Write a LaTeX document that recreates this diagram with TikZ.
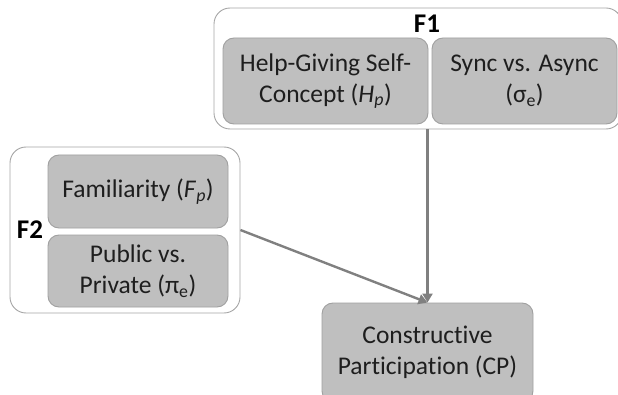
\documentclass[tikz,border=0pt]{standalone}
\usepackage{fontspec}
\setmainfont{Carlito}[Ligatures=NoCommon]
\usetikzlibrary{arrows.meta}
\definecolor{innerfill}{HTML}{BFBFBF}
\definecolor{innerline}{HTML}{A0A0A0}
\definecolor{outerline}{HTML}{A6A6A6}
\definecolor{txt}{HTML}{1E1E1E}
\definecolor{arrowc}{HTML}{808080}
\tikzset{
  groupbox/.style={draw=outerline, line width=0.9pt, rounded corners=16pt, fill=white, inner sep=0pt},
  factorbox/.style={draw=innerline, line width=0.9pt, fill=innerfill, rounded corners=11pt, inner sep=0pt, align=center, text=txt, font=\fontsize{25.5}{31}\selectfont},
  grouplabel/.style={text=black, font=\fontsize{27}{30}\selectfont\bfseries, inner sep=0pt},
  conn/.style={draw=arrowc, line width=2.4pt, -{Triangle[length=9pt,width=10pt]}}
}
\begin{document}
\begin{tikzpicture}[x=1pt,y=1pt]
\useasboundingbox (0,0) rectangle (618,394);
\clip (0,0) rectangle (618,394);
\node[groupbox, minimum width=408pt, minimum height=121pt] (f1) at (418,325.5) {};
\node[factorbox, minimum width=205pt, minimum height=86pt] (h) at (325.5,313) {Help-Giving Self-\\Concept (\textit{H}\textsubscript{\textit{p}})};
\node[factorbox, minimum width=185pt, minimum height=86pt] (s) at (524.5,313) {Sync vs. Async\\(σ\textsubscript{e})};
\node[grouplabel] (f1l) at (427,370) {F1};
\node[groupbox, minimum width=230pt, minimum height=166pt] (f2) at (125,164) {};
\node[factorbox, minimum width=180pt, minimum height=73pt] (fam) at (138,202.5) {Familiarity (\textit{F}\textsubscript{\textit{p}})};
\node[factorbox, minimum width=180pt, minimum height=72pt] (pub) at (138,123) {Public vs.\\Private (π\textsubscript{e})};
\node[grouplabel] (f2l) at (30,164) {F2};
\node[factorbox, minimum width=211pt, minimum height=99pt] (cp) at (427.5,41.5) {Constructive\\Participation (CP)};
\draw[conn] (f1.south -| cp.north) -- (cp.north);
\draw[conn] (f2.east) -- (cp.north);
\end{tikzpicture}
\end{document}
